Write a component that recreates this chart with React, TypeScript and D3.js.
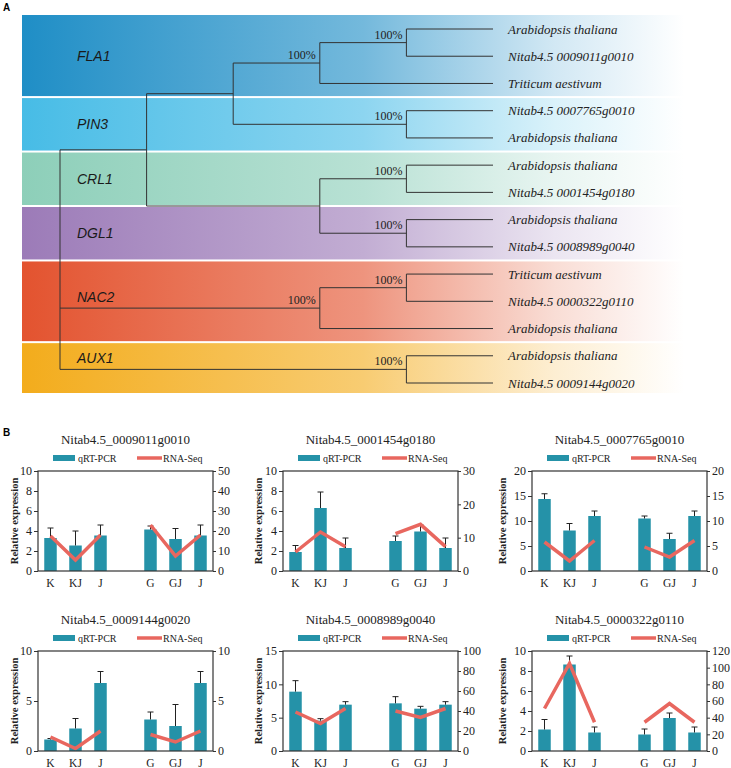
import React, { useEffect, useRef } from "react";
import * as d3 from "d3";

// ---------- panel A: tree ----------
const families = ["FLA1", "PIN3", "CRL1", "DGL1", "NAC2", "AUX1"];
const familyColors = ["#1f8ec6", "#47bce6", "#8dcfb9", "#9c7bb8", "#e3532f", "#f3ac1c"];

const leafNames = [
  "Arabidopsis thaliana",
  "Nitab4.5 0009011g0010",
  "Triticum aestivum",
  "Nitab4.5 0007765g0010",
  "Arabidopsis thaliana",
  "Arabidopsis thaliana",
  "Nitab4.5 0001454g0180",
  "Arabidopsis thaliana",
  "Nitab4.5 0008989g0040",
  "Triticum aestivum",
  "Nitab4.5 0000322g0110",
  "Arabidopsis thaliana",
  "Arabidopsis thaliana",
  "Nitab4.5 0009144g0020",
];
const leafFamily = [0, 0, 0, 1, 1, 2, 2, 3, 3, 4, 4, 4, 5, 5];
// arrays are clades, numbers are leaf indices
const topology = [[[[[0, 1], 2], [3, 4]], [[5, 6], [7, 8]]], [[9, 10], 11], [12, 13]];
// clades (first-last leaf) carrying a bootstrap label
const supportClades = ["0-1", "0-2", "3-4", "5-6", "7-8", "9-10", "9-11", "12-13"];
const supportLabel = "100%";

// ---------- panel B: expression charts ----------
const sampleLabels = ["K", "KJ", "J", "G", "GJ", "J"];
const genes = [
  "Nitab4.5_0009011g0010",
  "Nitab4.5_0001454g0180",
  "Nitab4.5_0007765g0010",
  "Nitab4.5_0009144g0020",
  "Nitab4.5_0008989g0040",
  "Nitab4.5_0000322g0110",
];
const qpcr = [
  [3.3, 2.55, 3.55, 4.15, 3.2, 3.55],
  [1.9, 6.3, 2.3, 3.0, 3.95, 2.3],
  [14.4, 8.1, 11.0, 10.5, 6.4, 11.0],
  [1.15, 2.25, 6.8, 3.15, 2.5, 6.8],
  [8.9, 4.55, 6.95, 7.15, 6.35, 6.95],
  [2.15, 8.65, 1.85, 1.65, 3.3, 1.85],
];
const qpcrErr = [
  [1.0, 1.45, 1.05, 0.35, 1.05, 1.05],
  [0.65, 1.6, 1.0, 0.5, 0.65, 1.0],
  [1.05, 1.4, 1.0, 0.5, 1.15, 1.0],
  [0.1, 1.0, 1.15, 0.75, 2.15, 1.15],
  [1.65, 0.3, 0.45, 1.0, 0.35, 0.45],
  [1.0, 0.85, 0.55, 0.55, 0.5, 0.55],
];
const rnaSeq = [
  [17.5, 5.5, 18, 23, 7.5, 18],
  [5.7, 11.7, 7.3, 11.2, 14.0, 7.3],
  [5.8, 2.0, 6.1, 4.8, 2.8, 6.1],
  [1.4, 0.25, 2.0, 1.65, 0.9, 2.0],
  [39, 27.5, 42.5, 40, 33.5, 42.5],
  [51, 105, 34.5, 34.5, 57, 34.5],
];
const leftMax = [10, 10, 20, 10, 15, 10];
const leftStep = [2, 2, 5, 5, 5, 2];
const rightMax = [50, 30, 20, 10, 100, 120];
const rightStep = [10, 10, 5, 5, 20, 20];

const SERIF = "'Liberation Serif', 'Times New Roman', serif";
const SANS = "'Liberation Sans', Arial, sans-serif";
const TEAL = "#2592a8";
const SALMON = "#e8675f";

// layout
const colLeft = [38, 283, 532];
const rowTop = [471, 651];
const plotW = 175;
const plotH = 100;
const ylabOffset = [20, 21, 26];

function drawTree(svg: any) {
  const root = d3.hierarchy<any>(topology, (d: any) => (Array.isArray(d) ? d : null));
  d3.cluster<any>().size([1, 1]).separation(() => 1)(root);
  const leaves = root.leaves();
  const yPos = d3.scaleLinear().domain([leaves[0].x!, leaves[leaves.length - 1].x!]).range([29, 383]);
  const xPos = d3.scaleLinear().domain([0, 1]).range([60, 493]);
  const ly = (i: number) => yPos(leaves[i].x!);

  const defs = svg.append("defs");
  const rootBranchY = root.children!.map((c: any) => yPos(c.x));

  families.forEach((fam, fi) => {
    const idx = leafFamily.map((v, i) => (v === fi ? i : -1)).filter((i) => i >= 0);
    const first = idx[0];
    const last = idx[idx.length - 1];
    const top = first === 0 ? ly(0) - 14 : (ly(first - 1) + ly(first)) / 2 + 1;
    const bottom = last === leaves.length - 1 ? ly(last) + 10 : (ly(last) + ly(last + 1)) / 2 - 1;
    const c = familyColors[fi];
    const mix = d3.interpolateRgb(c, "#ffffff");
    const grad = defs.append("linearGradient").attr("id", `band${fi}`).attr("x1", 0).attr("x2", 1).attr("y1", 0).attr("y2", 0);
    [[0, 0], [0.5, 0.38], [0.78, 0.8], [0.97, 1]].forEach(([o, t]) => {
      grad.append("stop").attr("offset", o).attr("stop-color", mix(t));
    });
    svg.append("rect")
      .attr("x", 22).attr("y", top)
      .attr("width", 683).attr("height", bottom - top)
      .attr("fill", `url(#band${fi})`);

    const center = (top + bottom) / 2;
    const hit = rootBranchY.find((y: number) => Math.abs(y - center) < 10);
    const baseY = hit !== undefined ? hit - 6 : center + 5;
    svg.append("text")
      .attr("x", 77).attr("y", baseY)
      .attr("font-family", SANS).attr("font-style", "italic").attr("font-size", 14)
      .attr("fill", "#1a1a1a")
      .text(fam);
  });

  const lines = svg.append("g").attr("stroke", "#333").attr("stroke-width", 1).attr("fill", "none");
  root.descendants().forEach((n: any) => {
    if (n.children) {
      const ys = n.children.map((c: any) => yPos(c.x));
      lines.append("line")
        .attr("x1", xPos(n.y)).attr("x2", xPos(n.y))
        .attr("y1", d3.min(ys)).attr("y2", d3.max(ys));
    }
    if (n.parent) {
      lines.append("line")
        .attr("x1", xPos(n.parent.y)).attr("x2", xPos(n.y))
        .attr("y1", yPos(n.x)).attr("y2", yPos(n.x));
    }
    if (n.children) {
      const lv = n.leaves();
      const key = `${lv[0].data}-${lv[lv.length - 1].data}`;
      if (supportClades.includes(key)) {
        svg.append("text")
          .attr("x", xPos(n.y) - 4).attr("y", yPos(n.x) - 4)
          .attr("text-anchor", "end")
          .attr("font-family", SERIF).attr("font-size", 12)
          .attr("fill", "#222")
          .text(supportLabel);
      }
    }
  });

  leaves.forEach((l: any, i: number) => {
    svg.append("text")
      .attr("x", 508).attr("y", yPos(l.x) + 4.5)
      .attr("font-family", SERIF).attr("font-style", "italic").attr("font-size", 13)
      .attr("fill", "#222")
      .text(leafNames[i]);
  });

  svg.append("text").attr("x", 3).attr("y", 11)
    .attr("font-family", SANS).attr("font-weight", "bold").attr("font-size", 10).text("A");
}

function drawChart(svg: any, i: number) {
  const col = i % 3;
  const row = Math.floor(i / 3);
  const g = svg.append("g").attr("transform", `translate(${colLeft[col]},${rowTop[row]})`);
  const slots = sampleLabels.map((_, j) => (j < 3 ? j : j + 1));
  const x = d3.scaleBand<number>().domain(d3.range(7)).range([0, plotW]).paddingInner(0.5).paddingOuter(0.25);
  const bw = x.bandwidth();
  const yL = d3.scaleLinear().domain([0, leftMax[i]]).range([plotH, 0]);
  const yR = d3.scaleLinear().domain([0, rightMax[i]]).range([plotH, 0]);

  // bars
  g.selectAll(".bar").data(qpcr[i]).enter().append("rect")
    .attr("x", (_: number, j: number) => x(slots[j])!)
    .attr("width", bw)
    .attr("y", (d: number) => yL(d))
    .attr("height", (d: number) => plotH - yL(d))
    .attr("fill", TEAL);

  // error bars
  const eg = g.append("g").attr("stroke", "#222").attr("stroke-width", 1);
  qpcr[i].forEach((v, j) => {
    const cx = x(slots[j])! + bw / 2;
    const y2 = yL(v + qpcrErr[i][j]);
    eg.append("line").attr("x1", cx).attr("x2", cx).attr("y1", yL(v)).attr("y2", y2);
    eg.append("line").attr("x1", cx - 3).attr("x2", cx + 3).attr("y1", y2).attr("y2", y2);
  });

  // RNA-Seq lines, one per group
  const line = d3.line<number>()
    .x((j) => x(slots[j])! + bw / 2)
    .y((j) => yR(rnaSeq[i][j]));
  [[0, 1, 2], [3, 4, 5]].forEach((grp) => {
    g.append("path").attr("d", line(grp)).attr("fill", "none")
      .attr("stroke", SALMON).attr("stroke-width", 3.5);
  });

  // axes
  const lAxis = g.append("g").call(
    d3.axisLeft(yL).tickValues(d3.range(0, leftMax[i] + 0.01, leftStep[i])).tickSize(4).tickPadding(2)
  );
  const rAxis = g.append("g").attr("transform", `translate(${plotW},0)`).call(
    d3.axisRight(yR).tickValues(d3.range(0, rightMax[i] + 0.01, rightStep[i])).tickSize(3).tickPadding(2)
  );
  [lAxis, rAxis].forEach((a) => {
    a.select(".domain").remove();
    a.selectAll("line").attr("stroke", "#333");
    a.selectAll("text").attr("font-family", SERIF).attr("font-size", 12).attr("fill", "#222");
  });
  g.append("rect").attr("width", plotW).attr("height", plotH)
    .attr("fill", "none").attr("stroke", "#333").attr("stroke-width", 1.2);

  // x labels
  sampleLabels.forEach((s, j) => {
    g.append("text")
      .attr("x", x(slots[j])! + bw / 2).attr("y", plotH + 16)
      .attr("text-anchor", "middle")
      .attr("font-family", SERIF).attr("font-size", 11.5).attr("fill", "#222")
      .text(s);
  });

  // y label
  g.append("text")
    .attr("transform", `translate(${-ylabOffset[col]},${plotH / 2}) rotate(-90)`)
    .attr("text-anchor", "middle")
    .attr("font-family", SERIF).attr("font-weight", "bold").attr("font-size", 10.5).attr("fill", "#222")
    .text("Relative expression");

  // title
  g.append("text")
    .attr("x", plotW / 2).attr("y", -27)
    .attr("text-anchor", "middle")
    .attr("font-family", SERIF).attr("font-size", 13).attr("fill", "#222")
    .text(genes[i]);

  // legend
  g.append("rect").attr("x", 15).attr("y", -16).attr("width", 22).attr("height", 6).attr("fill", TEAL);
  g.append("text").attr("x", 40).attr("y", -9.5)
    .attr("font-family", SERIF).attr("font-size", 10).attr("fill", "#222").text("qRT-PCR");
  g.append("line").attr("x1", 99).attr("x2", 124).attr("y1", -13).attr("y2", -13)
    .attr("stroke", SALMON).attr("stroke-width", 3.5);
  g.append("text").attr("x", 125).attr("y", -9.5)
    .attr("font-family", SERIF).attr("font-size", 10).attr("fill", "#222").text("RNA-Seq");
}

export default function App() {
  const ref = useRef<SVGSVGElement>(null);

  useEffect(() => {
    const svg = d3.select(ref.current);
    svg.selectAll("*").remove();
    drawTree(svg);
    svg.append("text").attr("x", 3).attr("y", 436)
      .attr("font-family", SANS).attr("font-weight", "bold").attr("font-size", 10).text("B");
    genes.forEach((_, i) => drawChart(svg, i));
  }, []);

  return (
    <svg
      ref={ref}
      width={731}
      height={768}
      style={{ position: "absolute", left: 0, top: 0, display: "block", background: "#fff" }}
    />
  );
}
